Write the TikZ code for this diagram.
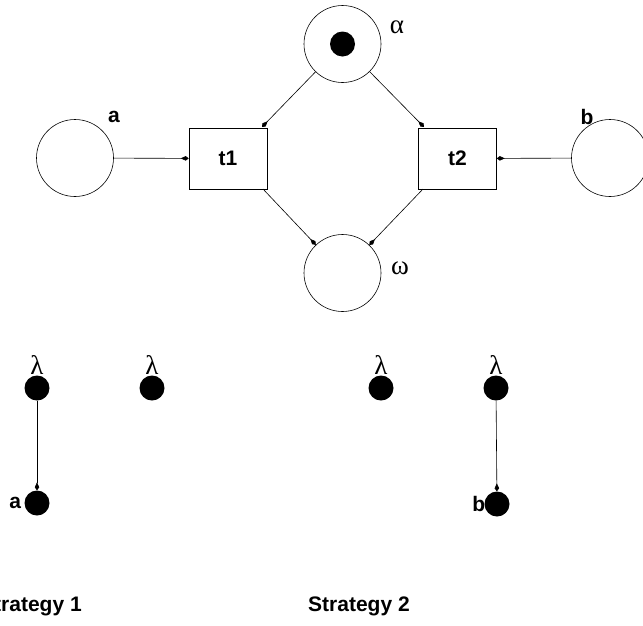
\documentclass[tikz,border=0pt]{standalone}
\usepackage{fontspec}
\setmainfont{Liberation Sans}
\newfontfamily\grk{Liberation Serif}
\usetikzlibrary{arrows.meta}
\begin{document}
\begin{tikzpicture}[x=1pt,y=-1pt,
  place/.style={circle,draw,line width=0.6pt,minimum size=77pt,inner sep=0pt},
  trans/.style={rectangle,draw,line width=0.6pt,minimum width=78pt,minimum height=61pt,inner sep=0pt,font=\fontsize{21}{22}\selectfont\bfseries},
  tok/.style={circle,fill=black,minimum size=25pt,inner sep=0pt},
  lbl/.style={inner sep=0pt,font=\fontsize{21}{22}\selectfont\bfseries},
  glbl/.style={inner sep=0pt,font=\fontsize{27}{27}\selectfont\grk},
  arc/.style={line width=0.6pt,-{Kite[length=8pt,width=4.5pt,inset=5pt]}}]
\useasboundingbox (0,0) rectangle (643,625);
% places
\node[place] (alpha) at (342.5,44) {};
\node[tok] (token) at (342.5,44) {};
\node[glbl] (alphal) at (397,27) {α};
\node[place] (pa) at (75,158) {};
\node[lbl] (pal) at (114,117) {a};
\node[place] (pb) at (610,158) {};
\node[lbl] (pbl) at (587,117) {b};
\node[place] (omega) at (342.5,273) {};
\node[glbl] (omegal) at (400,268) {ω};
% transitions
\node[trans] (t1) at (228,158.5) {t1};
\node[trans] (t2) at (457.5,158.5) {t2};
% arcs
\coordinate (t1in) at (262,127);
\coordinate (t2in) at (424,127);
\draw[arc] (alpha) -- (t1in);
\draw[arc] (alpha) -- (t2in);
\draw[arc] (pa) -- (t1);
\draw[arc] (pb) -- (t2);
\coordinate (t1out) at (263,189);
\coordinate (t2out) at (423,189);
\draw[arc] (t1out) -- (omega);
\draw[arc] (t2out) -- (omega);
% strategy 1
\node[tok] (s1l1) at (37,388) {};
\node[glbl,anchor=south] (s1l1t) at ([yshift=1pt]s1l1.north) {λ};
\node[tok] (s1l2) at (152,388) {};
\node[glbl,anchor=south] (s1l2t) at ([yshift=1pt]s1l2.north) {λ};
\node[tok] (s1a) at (37,503) {};
\node[lbl,anchor=east] (s1al) at ([xshift=-3pt]s1a.west) {a};
\draw[arc] (s1l1) -- (s1a);
% strategy 2
\node[tok] (s2l1) at (381,388) {};
\node[glbl,anchor=south] (s2l1t) at ([yshift=1pt]s2l1.north) {λ};
\node[tok] (s2l2) at (496,388) {};
\node[glbl,anchor=south] (s2l2t) at ([yshift=1pt]s2l2.north) {λ};
\node[tok] (s2b) at (497,504) {};
\node[lbl,anchor=east] (s2bl) at ([xshift=1pt]s2b.west) {b};
\draw[arc] (s2l2) -- (s2b);
% captions
\node[lbl] (cap1) at (31,606) {Strategy 1};
\node[lbl] (cap2) at (359,606) {Strategy 2};
\end{tikzpicture}
\end{document}
